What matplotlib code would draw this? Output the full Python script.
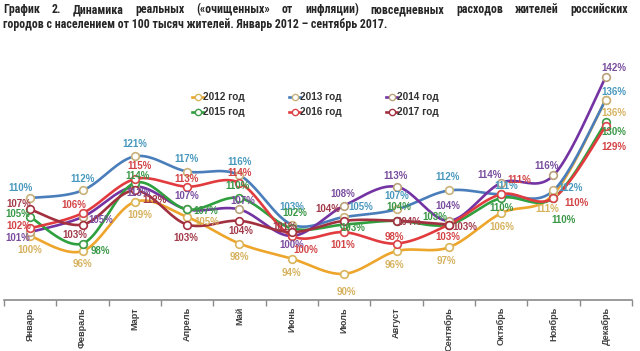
import numpy as np
import matplotlib
matplotlib.use('Agg')
import matplotlib.pyplot as plt
from matplotlib.lines import Line2D
from matplotlib import font_manager

# ---------------- data ----------------
months = ['Январь', 'Февраль', 'Март', 'Апрель', 'Май', 'Июнь', 'Июль',
          'Август', 'Сентябрь', 'Октябрь', 'Ноябрь', 'Декабрь']
series_names = ['2012 год', '2013 год', '2014 год', '2015 год', '2016 год', '2017 год']
v2012 = [100, 96, 109, 105, 98, 94, 90, 96, 97, 106, 111, 136]
v2013 = [110, 112, 121, 117, 116, 103, 105, 107, 112, 111, 112, 136]
v2014 = [101, 105, 113, 107, 107, 100, 108, 113, 104, 114, 116, 142]
v2015 = [105, 98, 114, 107, 110, 102, 103, 104, 103, 110, 110, 130]
v2016 = [102, 106, 115, 113, 114, 100, 101, 98, 103, 111, 110, 129]
v2017 = [107, 103, 112, 103, 104, 101, 104, 104, 103]
values = [v2012, v2013, v2014, v2015, v2016, v2017]

title1 = 'График 2. Динамика реальных («очищенных» от инфляции) повседневных расходов жителей российских'
title2 = 'городов с населением от 100 тысяч жителей. Январь 2012 – сентябрь 2017.'

# ---------------- styles ----------------
line_colors = ['#EDA52B', '#4A7EBB', '#7433A3', '#2FA03E', '#E23B3F', '#A3303F']
label_colors = ['#D6B25E', '#4898BE', '#7A4E9E', '#3A9848', '#D34446', '#A23A4A']
edge_colors = ['#D9B45A', '#C9B27A', '#B9A27A', '#3C9C48', '#D94448', '#A3303F']

# label offsets in pixels (dx right, dy down)
label_offsets = [
    [(0, 14), (0, 13), (5, 13), (20, 5), (0, 13), (0, 14), (2, 18), (-2, 14), (-2, 14), (1, 14), (-6, 15), (8, 13)],
    [(-10, -10), (0, -11), (0, -12), (-1, -13), (0, -13), (0, -18), (17, -10), (0, -13), (-1, -13), (5, -8), (17, -2), (8, -8)],
    [(-12, 6), (18, 3), (4, 6), (0, -13), (3, -8), (0, 9), (-1, -12), (-1, -11), (-1, -15), (-12, -8), (-7, -9), (8, -9)],
    [(-12, -3), (18, 7), (3, -7), (19, 2), (-2, -12), (3, -15), (9, 3), (2, -14), (-14, -8), (0, 10), (10, 22), (8, 10)],
    [(-11, -2), (-9, -8), (5, -13), (-1, -8), (0, -10), (14, 14), (-1, 13), (-2, -7), (-1, 12), (18, -14), (23, 5), (8, 21)],
    [(-11, -5), (-8, 10), (20, 10), (-1, 13), (1, 10), (-7, -5), (-16, -12), (12, 1), (16, 2)],
]

W, H, DPI = 640, 351, 100

# ---------------- fonts ----------------
ttf = font_manager.fontManager.ttflist
names = {f.name for f in ttf}

title_kw = dict(family=['Liberation Sans', 'DejaVu Sans'])
for nm in ['Liberation Sans Narrow', 'Arial Narrow', 'Roboto Condensed', 'Open Sans Condensed']:
    if nm in names:
        title_kw = dict(family=[nm, 'DejaVu Sans'])
        break
else:
    for nm in ['Noto Sans', 'Open Sans', 'DejaVu Sans']:
        if any(f.name == nm and str(f.stretch) == 'condensed' for f in ttf):
            title_kw = dict(family=[nm], stretch='condensed')
            break

main_family = ['Liberation Sans', 'DejaVu Sans']
plt.rcParams['font.family'] = main_family


def smooth(xs, ys, n=24):
    """Catmull-Rom (Excel-like) smoothing through given points."""
    xs = np.asarray(xs, float)
    ys = np.asarray(ys, float)
    px = np.concatenate([[xs[0]], xs, [xs[-1]]])
    py = np.concatenate([[ys[0]], ys, [ys[-1]]])
    outx, outy = [], []
    t = np.linspace(0, 1, n)
    for i in range(1, len(px) - 2):
        p0x, p1x, p2x, p3x = px[i - 1], px[i], px[i + 1], px[i + 2]
        p0y, p1y, p2y, p3y = py[i - 1], py[i], py[i + 1], py[i + 2]
        c1x, c1y = p1x + (p2x - p0x) / 6, p1y + (p2y - p0y) / 6
        c2x, c2y = p2x - (p3x - p1x) / 6, p2y - (p3y - p1y) / 6
        bx = (1 - t) ** 3 * p1x + 3 * (1 - t) ** 2 * t * c1x + 3 * (1 - t) * t ** 2 * c2x + t ** 3 * p2x
        by = (1 - t) ** 3 * p1y + 3 * (1 - t) ** 2 * t * c1y + 3 * (1 - t) * t ** 2 * c2y + t ** 3 * p2y
        outx.extend(bx if i == 1 else bx[1:])
        outy.extend(by if i == 1 else by[1:])
    return np.array(outx), np.array(outy)


fig = plt.figure(figsize=(W / DPI, H / DPI), dpi=DPI)
fig.patch.set_facecolor('white')

# axes: x from px 4 to 632, y from px 40 (top) to 300 (axis line)
ax = fig.add_axes([4 / W, 1 - 300 / H, 628 / W, 260 / H])
ax.set_xlim(-0.5, 11.5)
ax.set_ylim(83.1, 151.7)
ax.set_facecolor('white')
for s in ['top', 'right', 'left']:
    ax.spines[s].set_visible(False)
ax.spines['bottom'].set_color('#8a8a8a')
ax.spines['bottom'].set_linewidth(1.2)
ax.set_yticks([])
ax.set_xticks(range(12))
ax.set_xticklabels(months, rotation=90, fontsize=6.6, fontweight='bold', color='#404040',
                   va='top', ha='center')
ax.tick_params(axis='x', which='major', length=0, pad=5)
ax.set_xticks(np.arange(-0.5, 12, 1), minor=True)
ax.tick_params(axis='x', which='minor', length=4, width=1, color='#8a8a8a', direction='out')

for k, vals in enumerate(values):
    xs = np.arange(len(vals))
    sx, sy = smooth(xs, vals)
    ax.plot(sx, sy, color=line_colors[k], lw=1.9, solid_capstyle='round', zorder=2 + k * 0.1,
            clip_on=False)
for k, vals in enumerate(values):
    xs = np.arange(len(vals))
    ax.plot(xs, vals, ls='none', marker='o', ms=5.5, mfc='white', mec=edge_colors[k], mew=1.2,
            zorder=3 + k * 0.1, clip_on=False)
for k, vals in enumerate(values):
    for i, v in enumerate(vals):
        dx, dy = label_offsets[k][i]
        ax.annotate(f'{v}%', (i, v), xytext=(dx, -dy), textcoords='offset pixels',
                    ha='center', va='center', fontsize=7, fontweight='bold',
                    color=label_colors[k], zorder=5, annotation_clip=False)

# ---------------- legend (manual, row-major) ----------------
leg_cols_handle = [192, 289, 386]
leg_rows = [97, 112]
for k, name in enumerate(series_names):
    r, c = divmod(k, 3)
    x0 = leg_cols_handle[c]
    y = 1 - leg_rows[r] / H
    fig.add_artist(Line2D([x0 / W, (x0 + 11) / W], [y, y], color=line_colors[k], lw=1.9))
    fig.add_artist(Line2D([(x0 + 5.5) / W], [y], ls='none', marker='o', ms=4.5, mfc='white',
                          mec=edge_colors[k], mew=1.0))
    fig.text((x0 + 11) / W, y, name, ha='left', va='center', fontsize=7.2, fontweight='bold',
             color='#333333')

# ---------------- title (size fitted, first line justified) ----------------
renderer = fig.canvas.get_renderer()
x_left, x_right = 3, 628


def text_width(s, size):
    t = fig.text(0, 0, s, fontsize=size, fontweight='bold', **title_kw)
    w_ = t.get_window_extent(renderer).width
    t.remove()
    return w_


s_line2 = 8 * 349 / text_width(title2, 8)
s_line1 = 8 * 595 / text_width(title1, 8)
tsize = min(8.6, 0.5 * (s_line1 + s_line2))

words = title1.split(' ')
widths = [text_width(w_, tsize) for w_ in words]
gap = (x_right - x_left - sum(widths)) / (len(words) - 1)
x = x_left
base1 = 1 - 13 / H
for w_, wd in zip(words, widths):
    fig.text(x / W, base1, w_, fontsize=tsize, fontweight='bold', color='#262626',
             ha='left', va='baseline', **title_kw)
    x += wd + gap
fig.text(x_left / W, 1 - 28 / H, title2, fontsize=tsize, fontweight='bold', color='#262626',
         ha='left', va='baseline', **title_kw)

fig.savefig('out.png', dpi=DPI, facecolor='white')
